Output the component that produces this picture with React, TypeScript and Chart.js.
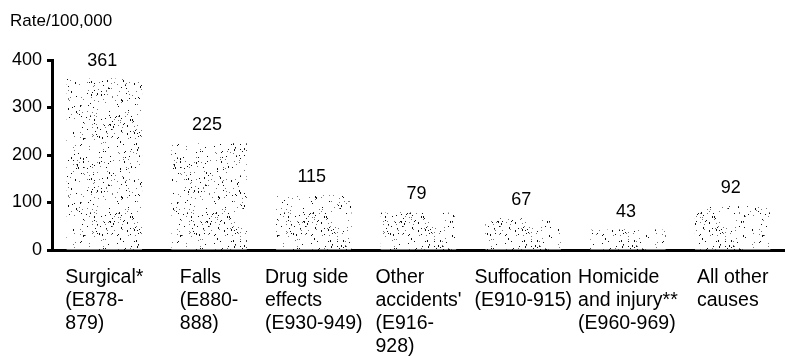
import React, { useEffect, useRef } from "react";
import { Chart, registerables } from "chart.js";

Chart.register(...registerables);

// ---- data ----
const categoryLines: string[][] = [
  ["Surgical*", "(E878-", "879)"],
  ["Falls", "(E880-", "888)"],
  ["Drug side", "effects", "(E930-949)"],
  ["Other", "accidents'", "(E916-", "928)"],
  ["Suffocation", "(E910-915)"],
  ["Homicide", "and injury**", "(E960-969)"],
  ["All other", "causes"],
];
const rates: number[] = [361, 225, 115, 79, 67, 43, 92];
const yMin = 0;
const yMax = 400;
const yStep = 100;
const yTitle = "Rate/100,000";

const FAMILY = "'Liberation Sans', Arial, Helvetica, sans-serif";

function makeStipple(): CanvasPattern | string {
  const size = 97;
  const c = document.createElement("canvas");
  c.width = size;
  c.height = size;
  const g = c.getContext("2d");
  if (!g) return "#eeeeee";
  g.fillStyle = "#ffffff";
  g.fillRect(0, 0, size, size);
  let s = 424242;
  const next = () => {
    s = (s * 1103515245 + 12345) & 0x7fffffff;
    return s / 0x7fffffff;
  };
  for (let i = 0; i < 420; i++) {
    const x = Math.floor(next() * size);
    const y = Math.floor(next() * size);
    const sh = next();
    g.fillStyle = sh < 0.5 ? "#111111" : "#777777";
    g.fillRect(x, y, 1, 1);
    if (sh < 0.15) g.fillRect(x, y + 1, 1, 1);
  }
  return g.createPattern(c, "repeat") || "#eeeeee";
}

const textPlugin = {
  id: "customText",
  afterDraw(chart: any) {
    const ctx: CanvasRenderingContext2D = chart.ctx;
    const xs = chart.scales.x;
    const area = chart.chartArea;
    ctx.save();
    ctx.fillStyle = "#000";
    ctx.textBaseline = "alphabetic";

    // y title
    ctx.font = `17px ${FAMILY}`;
    ctx.textAlign = "left";
    ctx.fillText(yTitle, 10, 26);

    // value labels
    ctx.font = `18px ${FAMILY}`;
    ctx.textAlign = "center";
    const meta = chart.getDatasetMeta(0);
    meta.data.forEach((bar: any, i: number) => {
      ctx.fillText(String(rates[i]), bar.x - 2, bar.y - 13);
    });

    // category labels (left-aligned blocks centred under bars)
    ctx.font = `19.5px ${FAMILY}`;
    ctx.textAlign = "left";
    categoryLines.forEach((lines, i) => {
      const cx = xs.getPixelForValue(i);
      const w = Math.max(...lines.map((l) => ctx.measureText(l).width));
      const left = cx - w / 2;
      lines.forEach((l, j) => {
        ctx.fillText(l, left, area.bottom + 33 + j * 23);
      });
    });
    ctx.restore();
  },
};

export default function App() {
  const ref = useRef<HTMLCanvasElement | null>(null);

  useEffect(() => {
    if (!ref.current) return;
    const chart = new Chart(ref.current, {
      type: "bar",
      data: {
        labels: categoryLines.map((l) => l.join(" ")),
        datasets: [
          {
            data: rates,
            backgroundColor: makeStipple() as any,
            borderWidth: 0,
            barPercentage: 0.72,
            categoryPercentage: 1,
          },
        ],
      },
      options: {
        animation: false,
        responsive: false,
        maintainAspectRatio: false,
        layout: { padding: { top: 60, left: 0, right: 0, bottom: 0 } },
        plugins: {
          legend: { display: false },
          tooltip: { enabled: false },
          title: { display: false },
        },
        scales: {
          x: {
            grid: { display: false },
            border: { display: true, color: "#000", width: 3 },
            ticks: { display: false },
            afterFit: (s: any) => {
              s.height = 106;
            },
          },
          y: {
            min: yMin,
            max: yMax,
            ticks: {
              stepSize: yStep,
              color: "#000",
              font: { family: FAMILY, size: 18 },
              padding: 5,
            },
            grid: {
              display: true,
              drawOnChartArea: false,
              drawTicks: true,
              tickLength: 5,
              tickWidth: 3,
              tickColor: "#000",
            },
            border: { display: true, color: "#000", width: 3 },
            afterFit: (s: any) => {
              s.width = 52;
            },
          },
        },
      },
      plugins: [textPlugin],
    });
    return () => chart.destroy();
  }, []);

  return (
    <div
      style={{
        position: "fixed",
        left: 0,
        top: 0,
        width: 785,
        height: 356,
        background: "#fff",
      }}
    >
      <canvas ref={ref} width={785} height={356} style={{ display: "block" }} />
    </div>
  );
}
